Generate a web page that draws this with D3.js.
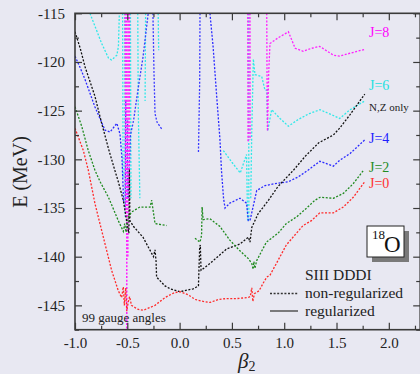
<!DOCTYPE html>
<html>
<head>
<meta charset="utf-8">
<script src="https://cdn.jsdelivr.net/npm/d3@7"></script>
<style>
  body { margin: 0; background: #e8e8f2; }
  svg { display: block; }
  text { font-family: "Liberation Serif", "Times New Roman", serif; }
</style>
</head>
<body>
<figure id="chart" style="margin:0"></figure>
<script>
// ---- data: [beta2, E (MeV)] ----
const j0 = [[-1,-126.8],[-0.92,-129.1],[-0.873,-131.1],[-0.81,-134.5],[-0.713,-138.7],[-0.65,-141.4],[-0.586,-143.5],[-0.554,-144.2],[-0.538,-143.1],[-0.528,-145.0],[-0.515,-143.2],[-0.505,-145.6],[-0.49,-144.6],[-0.478,-144.1],[-0.46,-145.0],[-0.40,-145.4],[-0.347,-145.5],[-0.28,-145.2],[-0.235,-145.0],[-0.14,-144.2],[-0.05,-143.7],[0.004,-143.6],[0.08,-143.9],[0.15,-144.4],[0.227,-144.6],[0.29,-144.7],[0.37,-144.4],[0.45,-144.3],[0.55,-144.3],[0.654,-144.2],[0.675,-144.1],[0.69,-143.2],[0.70,-144.6],[0.715,-143.8],[0.76,-143.5],[0.80,-142.7],[0.833,-142.1],[0.864,-141.9],[0.94,-140.4],[1.02,-138.8],[1.10,-137.8],[1.18,-136.8],[1.26,-136.3],[1.34,-135.5],[1.47,-135.5],[1.565,-134.9],[1.66,-133.9],[1.77,-132.3]];

const j2Left = [[-1,-124.6],[-0.936,-126.6],[-0.873,-129.1],[-0.81,-131.1],[-0.76,-132.3],[-0.68,-133.9],[-0.586,-136.3],[-0.538,-137.4],[-0.525,-136.6],[-0.512,-137.5],[-0.49,-135.9],[-0.458,-135.4],[-0.38,-134.9],[-0.283,-134.9],[-0.267,-134.2],[-0.235,-136.6],[-0.124,-136.8]];
const j2Right = [[0.147,-138.1],[0.195,-138.5],[0.21,-137.8],[0.215,-134.9],[0.225,-136.2],[0.29,-136.1],[0.386,-136.9],[0.48,-138.3],[0.577,-139.4],[0.657,-140.2],[0.69,-140.7],[0.703,-141.3],[0.71,-140.5],[0.72,-141.2],[0.737,-140.4],[0.83,-138.5],[0.94,-137.6],[1.02,-136.6],[1.12,-135.9],[1.215,-135.0],[1.294,-134.2],[1.342,-133.9],[1.47,-134.0],[1.565,-133.5],[1.66,-132.5],[1.76,-131.1]];

const j4Left = [[-1,-119.4],[-0.95,-120.6],[-0.904,-121.8],[-0.81,-124.6],[-0.713,-127.0],[-0.665,-127.2],[-0.60,-126.3],[-0.57,-127.4],[-0.55,-130.0],[-0.54,-133.0],[-0.535,-134.5]];
const j4Rise = [[-0.49,-134.0],[-0.47,-127.5],[-0.44,-126.0],[-0.40,-123.0],[-0.35,-119.5],[-0.30,-115]];
const j4Drop = [[-0.255,-115],[-0.245,-121],[-0.235,-125.3],[-0.215,-126.2],[-0.17,-126.9]];
const j4BundleA = [[-0.515,-124],[-0.52,-135]];
const j4BundleB = [[-0.497,-126],[-0.50,-134]];
const j4Spike = [[0.195,-115],[0.192,-122],[0.18,-129.4]];
const j4Right = [[0.29,-115],[0.32,-118.4],[0.355,-123.6],[0.386,-128.0],[0.40,-131.1],[0.42,-134.0],[0.434,-135.0],[0.48,-134.5],[0.577,-134.0],[0.64,-134.5],[0.657,-136.3],[0.673,-136.3],[0.737,-133.2],[0.816,-132.7],[0.91,-132.5],[1.04,-132.3],[1.135,-131.8],[1.23,-131.1],[1.34,-130.2],[1.47,-130.7],[1.53,-130.1],[1.63,-129.4],[1.77,-128.0]];

const j6Left = [[-0.857,-115],[-0.81,-116.3],[-0.745,-118.1],[-0.68,-119.6],[-0.65,-119.8],[-0.60,-119.3],[-0.585,-118.4],[-0.576,-115]];
const j6BundleA = [[-0.545,-115],[-0.54,-132]];
const j6BundleB = [[-0.525,-115],[-0.52,-136]];
const j6BundleC = [[-0.47,-115],[-0.465,-134]];
const j6BundleD = [[-0.40,-115],[-0.395,-125],[-0.38,-134]];
const j6BundleE = [[-0.325,-115],[-0.33,-124]];
const j6BundleF = [[-0.205,-115],[-0.20,-118.8]];
const j6Mid = [[0.418,-129.1],[0.50,-130.3],[0.58,-131.4],[0.64,-129.5],[0.65,-136.3]];
const j6Spike = [[0.66,-115],[0.662,-136.3]];
const j6Right = [[0.68,-134],[0.69,-127],[0.705,-119.7],[0.721,-121.3],[0.785,-121.5],[0.816,-122.9],[0.833,-122.9],[0.842,-127.1],[0.88,-124.9],[0.96,-125.8],[1.04,-126.6],[1.135,-125.9],[1.24,-125.3],[1.342,-124.9],[1.47,-125.5],[1.53,-125.8],[1.63,-124.9],[1.77,-124.0]];

const j8BundleA = [[-0.52,-115],[-0.515,-136]];
const j8BundleB = [[-0.505,-115],[-0.505,-147.5]];
const j8BundleC = [[-0.492,-115],[-0.495,-140]];
const j8BundleD = [[-0.48,-115],[-0.483,-133]];
const j8SpikeA = [[0.652,-115],[0.655,-128.2]];
const j8SpikeB = [[0.672,-115],[0.673,-128.0]];
const j8Right = [[0.833,-115],[0.836,-122],[0.84,-127.1],[0.852,-121],[0.864,-118.1],[0.945,-117.5],[1.04,-116.9],[1.105,-118.6],[1.18,-118.9],[1.26,-118.6],[1.34,-118.4],[1.47,-119.3],[1.53,-119.4],[1.63,-119.1],[1.77,-118.7]];

const nzOnly = [[-1,-116.9],[-0.95,-118.6],[-0.904,-120.5],[-0.81,-123.5],[-0.745,-126.3],[-0.68,-128.9],[-0.634,-130.6],[-0.586,-132.3],[-0.538,-134.2],[-0.50,-136.8],[-0.485,-137.6],[-0.48,-131.0],[-0.475,-136.3],[-0.44,-136.9],[-0.35,-138.0],[-0.25,-140.0],[-0.235,-139.3],[-0.225,-140.5],[-0.22,-142.1],[-0.14,-143.0],[-0.09,-143.3],[0.004,-143.6],[0.13,-143.3],[0.18,-143.0],[0.192,-139.0],[0.198,-138.8],[0.205,-141.4],[0.29,-140.7],[0.45,-139.2],[0.577,-138.7],[0.657,-138.0],[0.673,-138.5],[0.69,-137.0],[0.75,-135.6],[0.85,-134.2],[0.94,-132.8],[1.09,-131.1],[1.2,-129.7],[1.33,-128.3],[1.47,-127.5],[1.53,-126.8],[1.63,-125.4],[1.77,-123.3]];

const xMajor = [-1.0, -0.5, 0.0, 0.5, 1.0, 1.5, 2.0];
const xMinor = [-0.75, -0.25, 0.25, 0.75, 1.25, 1.75, 2.25];
const yMajor = [-145, -140, -135, -130, -125, -120, -115];
const yMinor = [-147.5, -142.5, -137.5, -132.5, -127.5, -122.5, -117.5];

const seriesLabels = [
  { text: "J=8", color: "#ff00ff", e: -117.4 },
  { text: "J=6", color: "#22e0e0", e: -122.9 },
  { text: "N,Z only", color: "#222", e: -125.0, small: true },
  { text: "J=4", color: "#2020ff", e: -128.3 },
  { text: "J=2", color: "#228b22", e: -131.3 },
  { text: "J=0", color: "#ff3030", e: -132.9 }
];

// ---- layout ----
const W = 420, H = 374;
const margin = { left: 75, top: 13.3, right: 420.2, bottom: 329.7 };

const svg = d3.select("#chart")
  .append("svg")
  .attr("width", W)
  .attr("height", H);

svg.append("rect").attr("width", W).attr("height", H).attr("fill", "#e8e8f2");

const x = d3.scaleLinear().domain([-1, 2.3]).range([margin.left, margin.right]);
const y = d3.scaleLinear().domain([-147.5, -115]).range([margin.bottom, margin.top]);

svg.append("clipPath").attr("id", "plotClip")
  .append("rect")
  .attr("x", margin.left).attr("y", margin.top)
  .attr("width", margin.right - margin.left)
  .attr("height", margin.bottom - margin.top);

const plot = svg.append("g").attr("clip-path", "url(#plotClip)");

const line = d3.line()
  .x(d => x(d[0]))
  .y(d => y(d[1]));

function drawCurve(data, color, width) {
  plot.append("path")
    .datum(data)
    .attr("fill", "none")
    .attr("stroke", color)
    .attr("stroke-width", width || 1.3)
    .attr("stroke-dasharray", "2,1.6")
    .attr("d", line);
}

// bundles first, main curves on top
[j6BundleA, j6BundleB, j6BundleC, j6BundleD, j6BundleE, j6BundleF, j6Spike].forEach(d => drawCurve(d, "#30e8e8"));
[j4BundleA, j4BundleB, j4Rise, j4Drop, j4Spike].forEach(d => drawCurve(d, "#3a3aff"));
[j8BundleA, j8BundleB, j8BundleC, j8BundleD, j8SpikeA, j8SpikeB].forEach(d => drawCurve(d, "#ff20ff", 1.5));

drawCurve(j6Left, "#30e8e8");
drawCurve(j6Mid, "#30e8e8");
drawCurve(j6Right, "#30e8e8");
drawCurve(j8Right, "#ff20ff");
drawCurve(j4Left, "#2a2aff");
drawCurve(j4Right, "#2a2aff");
drawCurve(nzOnly, "#111");
drawCurve(j2Left, "#1f8a1f");
drawCurve(j2Right, "#1f8a1f");
drawCurve(j0, "#ff2a2a");

// ---- axes ----
const axisColor = "#3a3a3a";

function styleAxis(g) {
  g.attr("font-family", null);
  g.select(".domain").remove();
  g.selectAll("line").attr("stroke", axisColor).attr("stroke-width", 1.2);
  g.selectAll("text")
    .attr("fill", "#222")
    .style("font-size", "15px")
    .style("font-family", "'Liberation Serif', serif");
}

// bottom, labelled
svg.append("g")
  .attr("transform", `translate(0,${margin.bottom})`)
  .call(d3.axisBottom(x).tickValues(xMajor).tickSize(-7).tickPadding(8)
    .tickFormat(d => d.toFixed(1)))
  .call(styleAxis);
svg.append("g")
  .attr("transform", `translate(0,${margin.bottom})`)
  .call(d3.axisBottom(x).tickValues(xMinor).tickSize(-4).tickFormat(""))
  .call(styleAxis);

// top
svg.append("g")
  .attr("transform", `translate(0,${margin.top})`)
  .call(d3.axisTop(x).tickValues(xMajor).tickSize(-7).tickFormat(""))
  .call(styleAxis);
svg.append("g")
  .attr("transform", `translate(0,${margin.top})`)
  .call(d3.axisTop(x).tickValues(xMinor).tickSize(-4).tickFormat(""))
  .call(styleAxis);

// left, labelled
svg.append("g")
  .attr("transform", `translate(${margin.left},0)`)
  .call(d3.axisLeft(y).tickValues(yMajor).tickSize(-7).tickPadding(10)
    .tickFormat(d => String(d)))
  .call(styleAxis);
svg.append("g")
  .attr("transform", `translate(${margin.left},0)`)
  .call(d3.axisLeft(y).tickValues(yMinor).tickSize(-4).tickFormat(""))
  .call(styleAxis);

// right
svg.append("g")
  .attr("transform", `translate(${margin.right},0)`)
  .call(d3.axisRight(y).tickValues(yMajor).tickSize(-7).tickFormat(""))
  .call(styleAxis);
svg.append("g")
  .attr("transform", `translate(${margin.right},0)`)
  .call(d3.axisRight(y).tickValues(yMinor).tickSize(-4).tickFormat(""))
  .call(styleAxis);

// frame
svg.append("rect")
  .attr("x", margin.left).attr("y", margin.top)
  .attr("width", margin.right - margin.left)
  .attr("height", margin.bottom - margin.top)
  .attr("fill", "none")
  .attr("stroke", axisColor)
  .attr("stroke-width", 1.6);

// axis titles
svg.append("text")
  .attr("transform", "translate(27,172) rotate(-90)")
  .attr("text-anchor", "middle")
  .attr("fill", "#222")
  .style("font-size", "20px")
  .text("E (MeV)");

const bx = svg.append("text")
  .attr("x", 238).attr("y", 368)
  .attr("fill", "#222")
  .style("font-size", "21px");
bx.append("tspan").style("font-style", "italic").text("β");
bx.append("tspan").attr("dy", 3).style("font-size", "14px").text("2");

// series labels
seriesLabels.forEach(l => {
  svg.append("text")
    .attr("x", 369)
    .attr("y", y(l.e))
    .attr("fill", l.color)
    .style("font-size", l.small ? "11px" : "14px")
    .text(l.text);
});

// ---- legend ----
svg.append("text").attr("x", 305).attr("y", 280).attr("fill", "#222")
  .style("font-size", "15.5px").text("SIII DDDI");
svg.append("line").attr("x1", 270).attr("x2", 298).attr("y1", 293.5).attr("y2", 293.5)
  .attr("stroke", "#333").attr("stroke-width", 1.3).attr("stroke-dasharray", "2,1.6");
svg.append("text").attr("x", 305).attr("y", 298).attr("fill", "#222")
  .style("font-size", "15.5px").text("non-regularized");
svg.append("line").attr("x1", 270).attr("x2", 298).attr("y1", 311).attr("y2", 311)
  .attr("stroke", "#555").attr("stroke-width", 1.5);
svg.append("text").attr("x", 305).attr("y", 316).attr("fill", "#222")
  .style("font-size", "15.5px").text("regularized");

// nucleus box
svg.append("rect").attr("x", 372).attr("y", 231).attr("width", 37).attr("height", 31)
  .attr("fill", "#7a7a7a");
svg.append("rect").attr("x", 367).attr("y", 226).attr("width", 37).attr("height", 31)
  .attr("fill", "#fff").attr("stroke", "#222").attr("stroke-width", 1);
svg.append("text").attr("x", 372).attr("y", 239).attr("fill", "#111")
  .style("font-size", "13px").text("18");
svg.append("text").attr("x", 384).attr("y", 252).attr("fill", "#111")
  .style("font-size", "23px").text("O");

svg.append("text").attr("x", 82).attr("y", 322).attr("fill", "#222")
  .style("font-size", "13px").text("99 gauge angles");
</script>
</body>
</html>
